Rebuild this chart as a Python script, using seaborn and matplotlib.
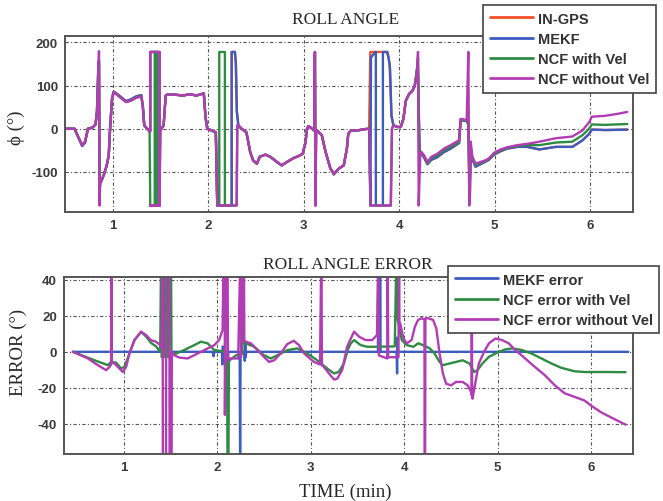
import matplotlib
matplotlib.use("Agg")
import matplotlib.pyplot as plt
import seaborn as sns

# ---- roll angle (deg) vs time (min) ----
GPS_T = [0.50, 0.60, 0.63, 0.68, 0.71, 0.74, 0.79, 0.82, 0.835, 0.85, 0.856, 0.862, 0.868, 0.877, 0.91, 0.937, 0.958, 0.972, 0.993, 1.01, 1.05, 1.105, 1.14, 1.19, 1.245, 1.30, 1.316, 1.33, 1.36, 1.386,
         1.393, 1.393, 1.49, 1.49, 1.393, 1.49, 1.497,
         1.51, 1.533, 1.555, 1.58, 1.65, 1.737, 1.807, 1.877, 1.954, 1.972, 1.99, 2.035, 2.08,
         2.095, 2.246, 2.246, 2.28, 2.29, 2.30, 2.316,
         2.35, 2.40, 2.44, 2.47, 2.51, 2.54, 2.60, 2.65, 2.72, 2.77, 2.825, 2.895, 2.95, 2.99, 3.02, 3.035, 3.05, 3.09, 3.11, 3.118, 3.124, 3.13, 3.147, 3.19, 3.23, 3.28, 3.316, 3.37, 3.42, 3.453, 3.467, 3.494, 3.564, 3.634, 3.686,
         3.698, 3.75, 3.88, 3.90, 3.92, 3.94,
         3.983, 4.017, 4.045, 4.07, 4.105, 4.14, 4.164, 4.185, 4.195, 4.215, 4.234, 4.26, 4.296, 4.338, 4.40, 4.47, 4.54, 4.593, 4.628,
         4.645, 4.708, 4.725, 4.74, 4.75, 4.767,
         4.80, 4.854, 4.906, 4.94, 4.994, 5.063, 5.133, 5.238, 5.342, 5.47, 5.64, 5.815, 5.92, 5.99, 6.02, 6.16, 6.39]
GPS_Y = [0, 0, -15, -40, -32, 0, 3, 10, 40, 150, 158, -150, -125, -123, -105, -85, -62, 0, 70, 86, 80, 70, 64, 68, 75, 78, 50, 8, 0, -6,
         -6, 178, 178, -178, -178, -178, 0,
         0, 8, 77, 80, 79, 77, 80, 77, 82, 27, 0, -4, -8,
         -178, -178, 178, 178, 150, 40, 8,
         0, -8, -54, -73, -81, -65, -60, -65, -77, -85, -77, -68, -63, -58, -31, 0, 6, 0, -4, 178, -178, -5, -5, -15, -54, -92, -106, -92, -85, -46, -12, -4, -4, -1, 0,
         178, 178, 178, 150, 30, 8,
         4, 4, 23, 65, 81, 88, 100, 135, 150, -50, -58, -66, -82, -72, -66, -54, -46, -38, -33,
         20, 18, 10, -170, -50, -70,
         -88, -82, -76, -72, -60, -52, -46, -42, -42, -48, -42, -42, -27, -12, -2, -3, -2]

MEKF_T = [0.50, 0.60, 0.63, 0.68, 0.71, 0.74, 0.79, 0.82, 0.835, 0.85, 0.856, 0.862, 0.868, 0.877, 0.91, 0.937, 0.958, 0.972, 0.993, 1.01, 1.05, 1.105, 1.14, 1.19, 1.245, 1.30, 1.316, 1.33, 1.36, 1.386,
          1.393, 1.393, 1.49, 1.49, 1.393, 1.49, 1.497,
          1.51, 1.533, 1.555, 1.58, 1.65, 1.737, 1.807, 1.877, 1.954, 1.972, 1.99, 2.035, 2.08,
          2.095, 2.246, 2.246, 2.28, 2.29, 2.30, 2.316,
          2.35, 2.40, 2.44, 2.47, 2.51, 2.54, 2.60, 2.65, 2.72, 2.77, 2.825, 2.895, 2.95, 2.99, 3.02, 3.035, 3.05, 3.09, 3.11, 3.118, 3.124, 3.13, 3.147, 3.19, 3.23, 3.28, 3.316, 3.37, 3.42, 3.453, 3.467, 3.494, 3.564, 3.634, 3.686,
          3.70, 3.705, 3.75, 3.756, 3.756, 3.83, 3.83, 3.87, 3.89, 3.905, 3.92, 3.94,
          3.983, 4.017, 4.045, 4.07, 4.105, 4.14, 4.164, 4.185, 4.195, 4.215, 4.234, 4.26, 4.296, 4.338, 4.40, 4.47, 4.54, 4.593, 4.628,
          4.645, 4.708, 4.725, 4.74, 4.75, 4.767,
          4.80, 4.854, 4.906, 4.94, 4.994, 5.063, 5.133, 5.238, 5.342, 5.47, 5.64, 5.815, 5.92, 5.99, 6.02, 6.16, 6.39]
MEKF_Y = [0, 0, -15, -40, -32, 0, 3, 10, 40, 150, 158, -150, -125, -123, -105, -85, -62, 0, 70, 86, 80, 70, 64, 68, 75, 78, 50, 8, 0, -6,
          -6, 178, 178, -178, -178, -178, 0,
          0, 8, 77, 80, 79, 77, 80, 77, 82, 27, 0, -4, -8,
          -178, -178, 178, 178, 150, 40, 8,
          0, -8, -54, -73, -81, -65, -60, -65, -77, -85, -77, -68, -63, -58, -31, 0, 6, 0, -4, 178, -178, -5, -5, -15, -54, -92, -106, -92, -85, -46, -12, -4, -4, -1, 0,
          -178, 165, 178, 178, -178, -178, 178, 178, 165, 140, 30, 8,
          4, 4, 23, 65, 81, 88, 100, 135, 150, -50, -58, -66, -82, -72, -66, -54, -46, -38, -33,
          20, 18, 10, -170, -50, -70,
          -88, -82, -76, -72, -60, -52, -46, -42, -42, -48, -42, -42, -27, -12, -2, -3, -2]

NCF_VEL_T = [0.50, 0.60, 0.63, 0.68, 0.71, 0.74, 0.79, 0.82, 0.835, 0.85, 0.856, 0.862, 0.868, 0.877, 0.91, 0.937, 0.958, 0.972, 0.993, 1.01, 1.05, 1.105, 1.14, 1.19, 1.245, 1.30, 1.316, 1.33, 1.36, 1.386,
             1.393, 1.44, 1.44, 1.463, 1.463, 1.49, 1.497,
             1.51, 1.533, 1.555, 1.58, 1.65, 1.737, 1.807, 1.877, 1.954, 1.972, 1.99, 2.035, 2.08,
             2.095, 2.116, 2.116, 2.175, 2.175, 2.298, 2.305,
             2.35, 2.40, 2.44, 2.47, 2.51, 2.54, 2.60, 2.65, 2.72, 2.77, 2.825, 2.895, 2.95, 2.99, 3.02, 3.035, 3.05, 3.09, 3.11, 3.118, 3.124, 3.13, 3.147, 3.19, 3.23, 3.28, 3.316, 3.37, 3.42, 3.453, 3.467, 3.494, 3.564, 3.634, 3.686,
             3.70, 3.913, 3.925, 3.94,
             3.983, 4.017, 4.045, 4.07, 4.105, 4.14, 4.164, 4.185, 4.198, 4.21, 4.234, 4.26, 4.296, 4.338, 4.40, 4.47, 4.54, 4.593, 4.628,
             4.645, 4.708, 4.728, 4.735, 4.75, 4.767,
             4.80, 4.854, 4.906, 4.94, 4.994, 5.063, 5.133, 5.238, 5.342, 5.47, 5.64, 5.815, 5.92, 5.99, 6.02, 6.16, 6.39]
NCF_VEL_Y = [0, 0, -15, -38, -30, 0, 3, 10, 40, 145, 155, -150, -125, -123, -105, -85, -62, 0, 70, 85, 78, 68, 62, 65, 72, 75, 50, 8, 0, -6,
             -178, -178, 178, 178, -178, -178, 0,
             0, 8, 77, 80, 79, 77, 80, 77, 82, 27, 0, -4, -8,
             -178, -178, 178, 178, -178, -178, 8,
             0, -8, -54, -73, -81, -65, -60, -65, -77, -85, -77, -68, -63, -58, -31, 0, 6, 0, -4, 170, -170, -5, -5, -15, -54, -92, -104, -92, -85, -46, -12, -4, -4, -1, 0,
             -178, -178, 0, 8,
             4, 4, 23, 65, 81, 88, 100, 130, 165, -50, -56, -63, -80, -68, -62, -50, -42, -35, -30,
             22, 19, 10, -160, -40, -68,
             -84, -79, -74, -70, -58, -50, -44, -40, -38, -38, -32, -30, -15, 0, 10, 9, 11]

NCF_NOVEL_T = [0.50, 0.60, 0.63, 0.68, 0.71, 0.74, 0.79, 0.82, 0.835, 0.85, 0.856, 0.862, 0.868, 0.877, 0.91, 0.937, 0.958, 0.972, 0.993, 1.01, 1.05, 1.105, 1.14, 1.19, 1.245, 1.30, 1.316, 1.33, 1.36, 1.386,
               1.393, 1.393, 1.49, 1.49, 1.393, 1.49, 1.497,
               1.51, 1.533, 1.555, 1.58, 1.65, 1.737, 1.807, 1.877, 1.954, 1.972, 1.99, 2.035, 2.08,
               2.095, 2.298, 2.305,
               2.316, 2.35, 2.40, 2.44, 2.47, 2.51, 2.54, 2.60, 2.65, 2.72, 2.77, 2.825, 2.895, 2.95, 2.99, 3.02, 3.035, 3.05, 3.09, 3.11, 3.118, 3.124, 3.13, 3.147, 3.19, 3.23, 3.28, 3.316, 3.37, 3.42, 3.453, 3.467, 3.494, 3.564, 3.634, 3.686,
               3.70, 3.913, 3.925, 3.94,
               3.983, 4.017, 4.045, 4.07, 4.105, 4.14, 4.164, 4.185, 4.198, 4.205, 4.222, 4.234, 4.26, 4.296, 4.338, 4.40, 4.47, 4.54, 4.593, 4.628,
               4.645, 4.708, 4.725, 4.735, 4.75, 4.767,
               4.80, 4.854, 4.906, 4.94, 4.994, 5.063, 5.133, 5.238, 5.342, 5.47, 5.64, 5.815, 5.92, 5.99, 6.02, 6.16, 6.30, 6.39]
NCF_NOVEL_Y = [0, 0, -15, -38, -30, 0, 3, 10, 40, 120, 180, -178, -125, -123, -105, -85, -62, 0, 70, 85, 78, 68, 62, 65, 72, 75, 50, 8, 0, -6,
               -6, 178, 178, -178, -178, -178, 0,
               0, 8, 77, 80, 79, 77, 80, 77, 82, 27, 0, -4, -8,
               -178, -178, 8,
               8, 0, -8, -54, -73, -81, -65, -60, -65, -77, -85, -77, -68, -63, -58, -31, 0, 6, 0, -4, 178, -178, -5, -5, -15, -54, -92, -104, -92, -85, -46, -12, -4, -4, -1, 0,
               -178, -178, 0, 8,
               4, 4, 23, 65, 81, 88, 100, 125, 178, -178, -60, -54, -61, -77, -65, -58, -46, -38, -31, -27,
               23, 20, 178, -178, -30, -65,
               -81, -77, -73, -69, -56, -48, -43, -38, -35, -30, -22, -18, -4, 15, 28, 30, 35, 39]

# ---- roll angle error (deg) ----
ERR_MEKF_T = [0.455, 1.95, 1.96, 1.97, 2.05, 2.055, 2.06, 2.065, 2.11, 2.115, 2.12, 2.24, 2.245, 2.25, 2.29, 2.295, 2.30, 2.305, 2.31,
              3.72, 3.723, 3.728, 3.74, 3.743, 3.748, 3.92, 3.925, 3.93, 3.935, 6.40]
ERR_MEKF_Y = [0, 0, -2.5, 0, 0, -7, 3, 0, 0, -4, 0, 0, -60, 0, 0, -5, 4, -3, 0,
              0, 60, 0, 0, 60, 0, 0, -12, 8, 0, 0]

ERR_VEL_T = [0.455, 0.687, 0.829, 0.865, 0.918, 0.972, 1.007, 1.06, 1.114, 1.185, 1.238, 1.29, 1.345, 1.39,
             1.40, 1.405, 1.427, 1.43, 1.452, 1.455, 1.477, 1.48, 1.505, 1.51,
             1.56, 1.648, 1.754, 1.826, 1.897, 1.968, 2.03, 2.075, 2.105, 2.11, 2.12, 2.125, 2.20, 2.27, 2.28, 2.285,
             2.306, 2.395, 2.50, 2.573, 2.644, 2.75, 2.858, 2.964, 3.07, 3.178, 3.25, 3.30, 3.356, 3.40,
             3.43, 3.465, 3.535, 3.605, 3.693, 3.90, 3.92, 3.925, 3.94, 3.975, 4.028, 4.10, 4.15, 4.204, 4.275, 4.327, 4.38, 4.415,
             4.486, 4.556, 4.627, 4.70, 4.75, 4.785, 4.838, 4.908, 5.014, 5.085, 5.155, 5.26, 5.366, 5.47, 5.578, 5.683, 5.824, 5.93, 6.14, 6.37]
ERR_VEL_Y = [0, -4.7, -7.4, -5.6, -6, -9.3, -8.4, -1, 6.5, 11, 8.5, 5, 3, 0,
             60, -3, 60, -3, 60, -3, 60, -3, 60, -1,
             -1, 1, 3.7, 5.6, 4.7, 1, 0.5, 0, 0, -60, -60, -5, -2, -1, 60, 5,
             4.7, 2.8, -1.9, -3.7, -1.9, 0.9, 1.9, -0.9, -4.7, -9.3, -12, -11.2, -6.5, 1.5,
             4.7, 6.5, 3.7, 2.8, 2.8, 3, 60, 19.5, 15.8, 6.5, 3.7, 2.8, 4.7, 3.7, 1.9, -1, -5.6, -7.4,
             -6.5, -5.6, -4.7, -6.5, -11.2, -10.2, -6.5, -2.8, 0, 1.3, 1.9, 1, -1, -3.7, -6.5, -8.9, -10.8, -11.2, -11.2, -11.3]

ERR_NOVEL_T = [0.455, 0.616, 0.722, 0.811, 0.847, 0.865, 0.868, 0.872, 0.90, 0.954, 0.99, 1.025, 1.06, 1.114, 1.185, 1.238, 1.29, 1.345, 1.39,
               1.405, 1.416, 1.418, 1.452, 1.454, 1.488, 1.49, 1.512, 1.514,
               1.54, 1.594, 1.683, 1.754, 1.826, 1.897, 1.968, 2.02, 2.057, 2.07, 2.08, 2.082, 2.09, 2.10, 2.11, 2.115, 2.13,
               2.18, 2.224, 2.25, 2.255, 2.285, 2.29,
               2.306, 2.36, 2.43, 2.50, 2.555, 2.61, 2.68, 2.75, 2.82, 2.875, 2.93, 2.98, 3.035, 3.10, 3.115, 3.12,
               3.142, 3.196, 3.25, 3.285, 3.338, 3.39, 3.43, 3.465, 3.518, 3.588, 3.658, 3.71, 3.725, 3.73, 3.82, 3.824, 3.83, 3.94, 3.947, 3.95,
               3.958, 3.993, 4.028, 4.08, 4.116, 4.15, 4.187, 4.218, 4.22, 4.225, 4.228, 4.257, 4.31, 4.345, 4.38, 4.415, 4.45,
               4.503, 4.556, 4.627, 4.68, 4.715, 4.722, 4.724, 4.728, 4.732, 4.768, 4.80, 4.856, 4.908, 4.979, 5.05, 5.12, 5.19,
               5.296, 5.40, 5.507, 5.613, 5.718, 5.824, 5.93, 6.0, 6.106, 6.211, 6.317, 6.37]
ERR_NOVEL_Y = [0, -3.7, -7.4, -10.2, -8.4, -7, 60, -6, -6.5, -9.3, -11.2, -8.4, -1, 6.5, 11.2, 9.3, 6.5, 5.6, 3.7,
               2, 60, -60, -60, 60, 60, -60, -60, 0,
               -1.9, -3.2, -3.7, -1.9, 0, 1.9, 3.7, 6.5, 12, 60, 60, -35, 20, 60, 60, -5, -3.7,
               -3.7, -3.7, 60, -3, 60, 5.6,
               5.6, 4.7, 1, -2.8, -5.6, -4.7, -0.9, 4.3, 6.1, 3.7, -0.9, -3.2, -5.6, -7, 60, -7.5,
               -8.4, -12, -15.4, -14.9, -10, 2.8, 7.4, 11.2, 8.4, 6.5, 6.5, 9.3, 60, -2, -3.7, 60, -3, -3, 60, 16,
               15.8, 7.4, 4.7, 6.5, 14, 17.7, 18.6, 18, -60, -60, 18.6, 18.6, 17.7, 13, -1, -12, -17.7,
               -18.6, -16.7, -16.7, -18.6, -22, -24, 60, -25, -26, -15.8, -6.5, 0, 4.7, 7.4, 6.5, 4.7, 1,
               -3.7, -8.4, -13, -18.6, -23, -25, -27, -29.8, -33.5, -36.3, -39, -40.4]

X_TICKS = [1, 2, 3, 4, 5, 6]
ANGLE_TICKS = [-100, 0, 100, 200]
ERROR_TICKS = [-40, -20, 0, 20, 40]

RED = "#f0502a"
BLUE = "#3d5cc0"
GREEN = "#2e8b42"
MAGENTA = "#b23cb4"

sns.set_theme(style="white")
plt.rcParams["font.family"] = ["Liberation Sans", "DejaVu Sans"]
plt.rcParams["axes.unicode_minus"] = False
SERIF = ["Liberation Serif", "DejaVu Serif"]

fig = plt.figure(figsize=(6.63, 5.02), dpi=100)
W, H = 663, 502
ax1 = fig.add_axes([65 / W, 1 - 213 / H, 568 / W, 176 / H])
ax2 = fig.add_axes([64 / W, 1 - 455 / H, 569 / W, 177 / H])

lw = 1.7
sns.lineplot(x=GPS_T, y=GPS_Y, ax=ax1, color=RED, lw=lw, sort=False, estimator=None, label="IN-GPS")
sns.lineplot(x=MEKF_T, y=MEKF_Y, ax=ax1, color=BLUE, lw=lw, sort=False, estimator=None, label="MEKF")
sns.lineplot(x=NCF_VEL_T, y=NCF_VEL_Y, ax=ax1, color=GREEN, lw=lw, sort=False, estimator=None, label="NCF with Vel")
sns.lineplot(x=NCF_NOVEL_T, y=NCF_NOVEL_Y, ax=ax1, color=MAGENTA, lw=lw, sort=False, estimator=None, label="NCF without Vel")

sns.lineplot(x=ERR_MEKF_T, y=ERR_MEKF_Y, ax=ax2, color=BLUE, lw=lw, sort=False, estimator=None, label="MEKF error")
sns.lineplot(x=ERR_VEL_T, y=ERR_VEL_Y, ax=ax2, color=GREEN, lw=lw, sort=False, estimator=None, label="NCF error with Vel")
sns.lineplot(x=ERR_NOVEL_T, y=ERR_NOVEL_Y, ax=ax2, color=MAGENTA, lw=lw, sort=False, estimator=None, label="NCF error without Vel")

ax1.set_xlim(0.5, 6.45)
ax1.set_ylim(-193, 215)
ax1.set_yticks(ANGLE_TICKS)
ax2.set_xlim(0.36, 6.45)
ax2.set_ylim(-56.7, 41.5)
ax2.set_yticks(ERROR_TICKS)

for ax in (ax1, ax2):
    ax.set_xticks(X_TICKS)
    ax.set_xlabel("")
    ax.set_ylabel("")
    ax.set_axisbelow(True)
    ax.grid(True, color="#555555", linestyle=(0, (3, 2, 1, 2)), linewidth=0.8)
    for s in ax.spines.values():
        s.set_color("#555555")
        s.set_linewidth(1.4)
    ax.tick_params(direction="in", length=3, width=0.8, pad=5, labelsize=9.5, labelcolor="#3a3a3a", color="#555555")
    for t in ax.get_xticklabels() + ax.get_yticklabels():
        t.set_fontweight("bold")

leg_font = {"family": ["Liberation Sans", "DejaVu Sans"], "weight": "bold", "size": 10.5}
leg1 = ax1.legend(loc="upper left", bbox_to_anchor=(483 / W, 1 - 6 / H), bbox_transform=fig.transFigure,
                  prop=leg_font, fancybox=False, framealpha=1, edgecolor="#444444", borderaxespad=0,
                  borderpad=0.45, handlelength=3.0, handletextpad=0.3, labelspacing=0.42)
leg1.get_frame().set_linewidth(1.2)
leg2 = ax2.legend(loc="upper left", bbox_to_anchor=(448 / W, 1 - 267 / H), bbox_transform=fig.transFigure,
                  prop=leg_font, fancybox=False, framealpha=1, edgecolor="#444444", borderaxespad=0,
                  borderpad=0.45, handlelength=3.0, handletextpad=0.3, labelspacing=0.42)
leg2.get_frame().set_linewidth(1.2)
for leg in (leg1, leg2):
    for t in leg.get_texts():
        t.set_color("#333333")
    for h in leg.get_lines():
        h.set_linewidth(2.0)

fig.text(346 / W, 1 - 20 / H, "ROLL ANGLE", family=SERIF, size=12.5, ha="center", va="center")
fig.text(348 / W, 1 - 265 / H, "ROLL ANGLE ERROR", family=SERIF, size=12.5, ha="center", va="center")
fig.text(345 / W, 1 - 492 / H, "TIME (min)", family=SERIF, size=13.5, ha="center", va="center")
fig.text(16 / W, 1 - 128 / H, "\u03d5 (°)", family=SERIF, size=13.5, ha="center", va="center", rotation=90)
fig.text(18 / W, 1 - 352 / H, "ERROR (°)", family=SERIF, size=13.5, ha="center", va="center", rotation=90)

fig.savefig("out.png", dpi=100)
